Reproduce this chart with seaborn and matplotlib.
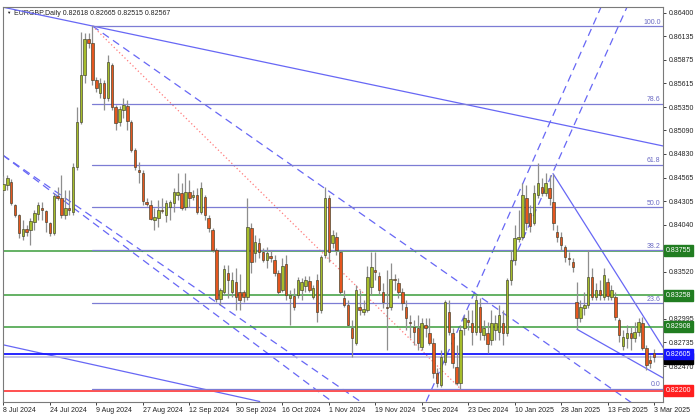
import numpy as np
import matplotlib
matplotlib.use("Agg")
import matplotlib.pyplot as plt
import matplotlib.transforms as mtransforms
import seaborn as sns

# EURGBP daily candles, 8 Jul 2024 .. 3 Mar 2025 (bar index = trading day)
opens = [
    .8443, .8448, .8452, .8426, .8415, .8392, .8400, .8398, .8407, .8416,
    .8423, .8420, .8406, .8395, .8436, .8434, .8415, .8423, .8418, .8468,
    .8518, .8571, .8611, .8606, .8565, .8551, .8562, .8545, .8582, .8535,
    .8518, .8532, .8536, .8518, .8487, .8465, .8462, .8430, .8426, .8410,
    .8412, .8421, .8415, .8424, .8428, .8437, .8440, .8424, .8441, .8435,
    .8437, .8418, .8435, .8412, .8398, .8376, .8322, .8330, .8351, .8329,
    .8341, .8330, .8329, .8324, .8401, .8373, .8384, .8374, .8365, .8370,
    .8365, .8351, .8332, .8361, .8323, .8325, .8326, .8332, .8336, .8342,
    .8324, .8343, .8310, .8371, .8434, .8384, .8391, .8374, .8323, .8315,
    .8290, .8273, .8313, .8307, .8310, .8335, .8354, .8347, .8329, .8313,
    .8313, .8344, .8340, .8330, .8313, .8296, .8291, .8290, .8268, .8293,
    .8284, .8273, .8240, .8226, .8252, .8307, .8284, .8246, .8228, .8290,
    .8298, .8295, .8285, .8313, .8282, .8284, .8276, .8287, .8285, .8295,
    .8284, .8343, .8365, .8388, .8391, .8434, .8417, .8406, .8437, .8446,
    .8440, .8445, .8430, .8396, .8391, .8380, .8367, .8363, .8318, .8301,
    .8312, .8315, .8346, .8324, .8332, .8324, .8341, .8324, .8324, .8298,
    .8270, .8278, .8284, .8278, .8285, .8295, .8267, .8254, .82618]
highs = [
    .8458, .8460, .8455, .8427, .8416, .8410, .8404, .8412, .8421, .8430,
    .8430, .8421, .8407, .8440, .8446, .8460, .8443, .8443, .8473, .8535,
    .8618, .8617, .8617, .8625, .8568, .8567, .8565, .8593, .8584, .8537,
    .8536, .8545, .8543, .8521, .8490, .8474, .8465, .8434, .8432, .8423,
    .8432, .8434, .8432, .8432, .8445, .8462, .8451, .8462, .8454, .8443,
    .8445, .8452, .8437, .8415, .8401, .8378, .8334, .8360, .8360, .8352,
    .8356, .8349, .8332, .8434, .8406, .8393, .8390, .8378, .8379, .8376,
    .8371, .8354, .8367, .8371, .8332, .8334, .8346, .8345, .8347, .8347,
    .8337, .8349, .8371, .8446, .8437, .8398, .8396, .8376, .8332, .8321,
    .8298, .8337, .8332, .8321, .8358, .8374, .8374, .8352, .8340, .8354,
    .8362, .8350, .8345, .8334, .8321, .8304, .8298, .8304, .8301, .8301,
    .8301, .8278, .8245, .8265, .8321, .8321, .8290, .8271, .8293, .8304,
    .8310, .8310, .8326, .8323, .8298, .8296, .8310, .8304, .8315, .8310,
    .8345, .8376, .8404, .8421, .8451, .8448, .8426, .8448, .8473, .8456,
    .8462, .8460, .8461, .8404, .8396, .8382, .8374, .8367, .8341, .8321,
    .8329, .8376, .8356, .8340, .8343, .8356, .8345, .8337, .8330, .8301,
    .8287, .8293, .8292, .8296, .8301, .8302, .8271, .8260, .82665]
lows = [
    .8440, .8443, .8426, .8413, .8390, .8387, .8392, .8382, .8398, .8410,
    .8410, .8396, .8392, .8393, .8432, .8412, .8411, .8415, .8415, .8465,
    .8516, .8562, .8601, .8560, .8552, .8545, .8532, .8542, .8532, .8510,
    .8514, .8523, .8510, .8485, .8465, .8451, .8426, .8425, .8410, .8398,
    .8402, .8417, .8407, .8410, .8418, .8432, .8421, .8421, .8424, .8432,
    .8416, .8416, .8410, .8396, .8374, .8318, .8315, .8326, .8323, .8324,
    .8310, .8310, .8318, .8321, .8351, .8363, .8367, .8363, .8356, .8363,
    .8347, .8326, .8329, .8321, .8293, .8310, .8323, .8321, .8330, .8330,
    .8322, .8296, .8306, .8367, .8363, .8378, .8371, .8326, .8313, .8292,
    .8257, .8271, .8304, .8304, .8307, .8326, .8343, .8326, .8312, .8265,
    .8310, .8332, .8323, .8310, .8287, .8278, .8271, .8265, .8265, .8280,
    .8271, .8234, .8224, .8224, .8248, .8282, .8245, .8226, .8222, .8282,
    .8287, .8271, .8282, .8276, .8276, .8262, .8271, .8276, .8276, .8271,
    .8281, .8337, .8360, .8385, .8387, .8398, .8396, .8404, .8434, .8436,
    .8436, .8426, .8398, .8385, .8376, .8363, .8360, .8352, .8288, .8296,
    .8304, .8312, .8321, .8321, .8321, .8321, .8321, .8321, .8298, .8274,
    .8265, .8267, .8265, .8274, .8281, .8265, .8243, .8245, .82515]
closes = [
    .8450, .8456, .8428, .8415, .8395, .8400, .8396, .8408, .8417, .8426,
    .8421, .8407, .8395, .8436, .8434, .8415, .8423, .8421, .8468, .8518,
    .8571, .8611, .8606, .8565, .8556, .8562, .8545, .8585, .8535, .8517,
    .8533, .8537, .8520, .8487, .8468, .8463, .8431, .8427, .8411, .8413,
    .8421, .8420, .8428, .8430, .8441, .8441, .8423, .8441, .8434, .8437,
    .8418, .8445, .8415, .8401, .8376, .8322, .8332, .8355, .8343, .8343,
    .8324, .8321, .8324, .8402, .8363, .8385, .8374, .8365, .8373, .8367,
    .8351, .8330, .8358, .8326, .8326, .8313, .8343, .8341, .8343, .8332,
    .8334, .8307, .8368, .8434, .8374, .8393, .8376, .8329, .8315, .8293,
    .8278, .8332, .8310, .8311, .8346, .8357, .8352, .8332, .8318, .8312,
    .8344, .8343, .8330, .8317, .8301, .8295, .8285, .8273, .8295, .8290,
    .8273, .8240, .8228, .8257, .8318, .8285, .8251, .8228, .8287, .8301,
    .8296, .8285, .8321, .8285, .8290, .8272, .8295, .8295, .8304, .8284,
    .8343, .8365, .8390, .8391, .8437, .8406, .8403, .8440, .8451, .8440,
    .8451, .8434, .8406, .8391, .8382, .8368, .8366, .8357, .8301, .8313,
    .8315, .8346, .8324, .8332, .8326, .8348, .8325, .8332, .8302, .8282,
    .8280, .8284, .8278, .8285, .8296, .8267, .8248, .8251, .82567]

date_ticks = [0, 12, 24, 36, 48, 60, 72, 84, 96, 108, 120, 132, 144, 156, 168]
date_labels = ["8 Jul 2024", "24 Jul 2024", "9 Aug 2024", "27 Aug 2024", "12 Sep 2024",
               "30 Sep 2024", "16 Oct 2024", "1 Nov 2024", "19 Nov 2024", "5 Dec 2024",
               "23 Dec 2024", "10 Jan 2025", "28 Jan 2025", "13 Feb 2025", "3 Mar 2025"]
price_ticks = [0.86400, 0.86135, 0.85875, 0.85615, 0.85350, 0.85090, 0.84830, 0.84565,
               0.84305, 0.84040, 0.83780, 0.83520, 0.83255, 0.82995, 0.82735, 0.82470, 0.82210]
# tick labels covered by the price tags in the terminal
covered_ticks = [0.83780, 0.83255, 0.82210]

# fibonacci retracement (Aug high -> Dec low)
fib_high, fib_low = 0.8625, 0.8222
fib_bars = [23, 118]
fib_ratios = [0.0, 23.6, 38.2, 50.0, 61.8, 78.6, 100.0]

# horizontal levels
green_levels = [0.83755, 0.83258, 0.82908]
blue_level = 0.82605
bid_level = 0.82567
red_level = 0.82200

# trend lines: (bar, price) anchors
main_line = [(23, 0.8625), (170, 0.8492)]
lower_line = [(-0.3, 0.8271), (67, 0.8207)]
peak_ray = [(23, 0.8625), (161, 0.8210)]
fan_a = [(-0.3, 0.8482), (77.3, 0.8232)]
fan_b = [(-0.3, 0.8482), (84, 0.8232)]
rise_a = [(109.6, 0.8212), (154.4, 0.8647)]
rise_b = [(131.5, 0.8363), (160.9, 0.8645)]
fall_top = [(141.9, 0.8461), (170.3, 0.8268)]
fall_low = [(148.1, 0.8288), (170.3, 0.8234)]

sns.set_style("white")
plt.rcParams["font.family"] = ["Liberation Sans", "DejaVu Sans"]
fs = 5.0

fig = plt.figure(figsize=(6.96, 4.2), dpi=100)
ax = fig.add_axes([3 / 696, 18.5 / 420, 660 / 696, 395 / 420])

o = np.array(opens)
h = np.array(highs)
l = np.array(lows)
c = np.array(closes)
idx = np.arange(len(c))
up = c >= o

bull = "#a6bd2b"
bear = "#e5561f"
ax.vlines(idx, l, h, color="#8e8e8e", lw=0.9, zorder=3)
body_h = np.maximum(np.abs(c - o), 0.00004)
ax.bar(idx, body_h, bottom=np.minimum(o, c), width=0.64,
       color=np.where(up, bull, bear), edgecolor="#3f3f2a", linewidth=0.45, zorder=4)

xmax = 170.3


def extend(p0, p1, x_to):
    (x0, y0), (x1, y1) = p0, p1
    k = (y1 - y0) / (x1 - x0)
    return y0 + k * (x_to - x0)


line_blue = "#6767f5"
dash = (0, (6, 4))
for seg, ls in [(main_line, "-"), (lower_line, "-"), (fan_a, dash), (fan_b, dash), (rise_a, dash)]:
    ax.axline(seg[0], seg[1], color=line_blue, lw=0.9, ls=ls, zorder=2)
for seg, ls in [(peak_ray, dash), (rise_b, dash), (fall_top, "-"), (fall_low, "-")]:
    x0 = seg[0][0]
    ax.plot([x0, xmax + 5], [seg[0][1], extend(seg[0], seg[1], xmax + 5)],
            color=line_blue, lw=0.9, ls=ls, zorder=2)

# fib diagonal
ax.plot(fib_bars, [fib_high, fib_low], color="#ff7a7a", lw=0.9, ls=(0, (1, 2)), zorder=2)

# full-width horizontal levels
for lv in green_levels:
    ax.axhline(lv, color="#3a9d3a", lw=1.1, zorder=2)
ax.axhline(bid_level, color="#b4b4dc", lw=1.1, zorder=2)
ax.axhline(blue_level, color="#1616ff", lw=1.3, zorder=2)
ax.axhline(red_level, color="#ff5050", lw=1.4, zorder=2)

# fib levels
for r in fib_ratios:
    lv = fib_low + (fib_high - fib_low) * r / 100
    ax.plot([fib_bars[0], xmax + 1], [lv, lv], color="#7c7cd4", lw=0.9, zorder=2.5)
    ax.text(xmax - 0.6, lv + 0.00004, f"{r:.1f}", ha="right", va="bottom",
            fontsize=fs, color="#6a6ac4", zorder=6)

ax.set_xlim(-0.1, xmax)
ax.set_ylim(0.820778, 0.864667)

ax.yaxis.tick_right()
ax.set_yticks(price_ticks)
ax.set_yticklabels(["" if v in covered_ticks else f"{v:.5f}" for v in price_ticks])
ax.tick_params(axis="y", direction="out", length=2.5, width=0.6, pad=1.5,
               labelsize=fs, colors="#222222", right=True, left=False)
ax.set_xticks(date_ticks)
ax.set_xticklabels(date_labels)
ax.tick_params(axis="x", direction="out", length=2.5, width=0.6, pad=1.5,
               labelsize=fs, colors="#222222", bottom=True)
for t in ax.get_xticklabels():
    t.set_ha("left")

for s in ax.spines.values():
    s.set_color("#7a7a7a")
    s.set_linewidth(0.8)

# price tags on the right axis
tr = mtransforms.blended_transform_factory(ax.transAxes, ax.transData)
tags = [(green_levels[0], "#217d21"), (green_levels[1], "#217d21"), (green_levels[2], "#217d21"),
        (bid_level - 0.00014, "#000000"), (blue_level, "#1414ff"), (red_level, "#ff1e1e")]
for val, col in tags:
    label = f"{val:.5f}" if col != "#000000" else f"{bid_level:.5f}"
    ax.text(1.004, val, label, transform=tr, ha="left", va="center", fontsize=fs,
            color="white", clip_on=False, zorder=10,
            bbox=dict(boxstyle="square,pad=0.28", fc=col, ec=col))

ax.text(0.004, 0.988, "\u25bc", transform=ax.transAxes, fontsize=3.2, va="top", color="#222222")
ax.text(0.016, 0.990, "EURGBP,Daily 0.82618 0.82665 0.82515 0.82567", transform=ax.transAxes,
        fontsize=fs, va="top", color="#222222", zorder=1)

fig.savefig("out.png", dpi=100, facecolor="white")
